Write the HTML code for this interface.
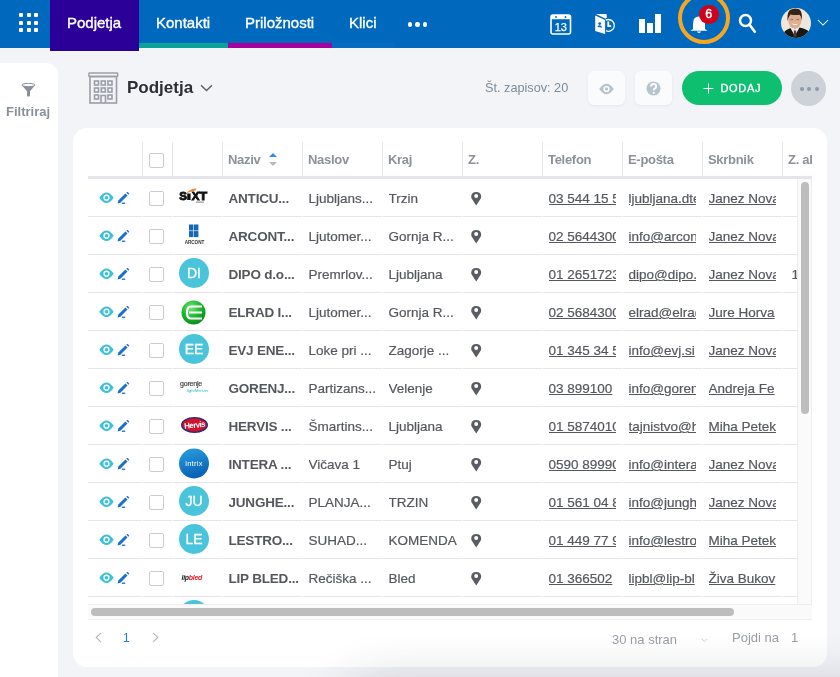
<!DOCTYPE html>
<html><head><meta charset="utf-8">
<style>
*{box-sizing:border-box;margin:0;padding:0}
html,body{width:840px;height:677px;overflow:hidden}
body{background:#F3F4F8;font-family:"Liberation Sans",sans-serif;position:relative;color:#55585E}
.abs{position:absolute}
#hdr{left:0;top:0;width:840px;height:48px;background:#0069BE}
.dot{position:absolute;width:4px;height:4px;background:#fff;border-radius:1px}
.tab{position:absolute;top:0;height:48px;color:#fff;font-size:15px;line-height:46px;white-space:nowrap;-webkit-text-stroke:0.35px #fff}
#t1{left:50px;width:89px;height:51px;background:#2A0098}
.ul{position:absolute;top:43px;height:5px}
#side{left:0;top:63px;width:58px;height:614px;background:#fff;border-top-right-radius:12px}
#card{left:73px;top:128px;width:754px;height:539px;background:#fff;border-radius:14px}
.hcell{position:absolute;top:142px;height:34px;border-left:1px solid #E6E7EB}
.htxt{position:absolute;top:152px;font-size:13px;font-weight:bold;color:#8C919A;white-space:nowrap;letter-spacing:-0.3px}
.row{position:absolute;left:88px;width:709px;height:38px}
.c{position:absolute;top:0;height:38px;overflow:hidden;white-space:nowrap;font-size:13.5px;line-height:38px;padding-left:6.5px;padding-right:6px;padding-top:1px;-webkit-text-stroke-width:0.2px}
.c::after{content:"";position:absolute;left:1px;right:0;bottom:0;height:1px;background:#E4E5EA}
.c0::after{left:0}
.nm{font-weight:bold;color:#54575D;letter-spacing:-0.2px;-webkit-text-stroke-width:0}
.lnk{text-decoration:underline;color:#55585E}
.in{width:67px;overflow:hidden;white-space:nowrap}
.av{position:absolute;left:7px;top:3px;width:30px;height:30px;border-radius:50%;background:#4AC4DA;color:#fff;font-size:14px;line-height:31px;text-align:center;-webkit-text-stroke:0.3px #fff}
.cb{position:absolute;left:7px;top:12px;width:15px;height:15px;border:1px solid #C9CCD1;border-radius:2px;background:#fff}
.hsep{position:absolute;top:142px;width:1px;height:34px;background:#E6E7EB}
.hline{position:absolute;left:88px;top:176px;width:724px;height:3px;background:#E3E5EA}
.hcb{position:absolute;left:149px;top:153px;width:15px;height:15px;border:1px solid #C9CCD1;border-radius:2px;background:#fff}
#body{position:absolute;left:88px;top:179px;width:709px;height:425px;overflow:hidden}
.row{position:absolute;left:0}
#vtrack{position:absolute;left:797px;top:179px;width:15px;height:425px;background:#FAFAFA;border-left:1px solid #EDEDED;border-right:1px solid #EDEDED}
#vthumb{position:absolute;left:3px;top:3px;width:8px;height:232px;border-radius:4px;background:#BDBDBD}
#htrack{position:absolute;left:88px;top:604px;width:724px;height:16px;background:#FAFAFA;border-top:1px solid #EDEDED;border-bottom:1px solid #EDEDED}
#hthumb{position:absolute;left:3px;top:3px;width:643px;height:8px;border-radius:4px;background:#BDBDBD}
</style></head>
<body style="will-change:transform">
<div id="hdr" class="abs">
  <div class="dot" style="left:19px;top:13px"></div><div class="dot" style="left:26.5px;top:13px"></div><div class="dot" style="left:34px;top:13px"></div>
  <div class="dot" style="left:19px;top:20.5px"></div><div class="dot" style="left:26.5px;top:20.5px"></div><div class="dot" style="left:34px;top:20.5px"></div>
  <div class="dot" style="left:19px;top:28px"></div><div class="dot" style="left:26.5px;top:28px"></div><div class="dot" style="left:34px;top:28px"></div>
  <div class="tab" id="t1"><span class="abs" style="left:17px">Podjetja</span></div>
  <div class="ul" style="left:139px;width:89px;background:#0AA39A"></div>
  <div class="ul" style="left:228px;width:104px;background:#A6009E"></div>
  <div class="ul" style="left:332px;width:63px;background:#066BC3"></div>
  <div class="tab" style="left:156px">Kontakti</div>
  <div class="tab" style="left:245px">Priložnosti</div>
  <div class="tab" style="left:349px">Klici</div>

  <div class="tab" style="left:407px;top:0;font-size:0">
    <span class="abs" style="left:0.5px;top:22px;width:4.6px;height:4.6px;border-radius:50%;background:#fff"></span>
    <span class="abs" style="left:8.2px;top:22px;width:4.6px;height:4.6px;border-radius:50%;background:#fff"></span>
    <span class="abs" style="left:15.9px;top:22px;width:4.6px;height:4.6px;border-radius:50%;background:#fff"></span>
  </div>
  <svg class="abs" style="left:550px;top:14px" width="22" height="21" viewBox="0 0 22 21">
    <rect x="1" y="1" width="19.5" height="19" rx="2" fill="none" stroke="#fff" stroke-width="1.6"/>
    <rect x="1" y="1" width="19.5" height="4.2" fill="#fff"/>
    <circle cx="6" cy="3" r="0.9" fill="#0069BE"/><circle cx="15.5" cy="3" r="0.9" fill="#0069BE"/>
    <text x="10.8" y="16.6" font-family="Liberation Sans" font-size="11" fill="#fff" stroke="#fff" stroke-width="0.25" text-anchor="middle">13</text>
  </svg>
  <svg class="abs" style="left:594px;top:13px" width="23" height="23" viewBox="0 0 23 23">
    <circle cx="14.4" cy="12.4" r="5.9" fill="none" stroke="#fff" stroke-width="1.3"/>
    <path d="M14.3 8.6 V13.1 H17.2" fill="none" stroke="#fff" stroke-width="1.9"/>
    <path d="M0.2 1.5 L12.1 6.9 L12.1 22 L0.2 19 Z" fill="#0069BE"/>
    <path d="M1.8 1.1 L11.7 1.1 Q12.75 1.1 12.75 2.2 L12.75 4.9 L11.2 5.5 Z" fill="#fff"/>
    <path d="M1.2 2.6 L11.1 7.1 L11.1 21 L1.2 18.1 Z" fill="#fff"/>
    <circle cx="5.7" cy="10.6" r="1.35" fill="#0069BE"/>
    <path d="M3.2 13.8 Q4.2 11.9 5.9 12.3 Q7.6 12.7 8.1 14.7 Z" fill="#0069BE"/>
  </svg>
  <div class="abs" style="left:639px;top:18.7px;width:5.5px;height:14.3px;background:#fff"></div>
  <div class="abs" style="left:647px;top:23px;width:5.5px;height:10px;background:#fff"></div>
  <div class="abs" style="left:655px;top:14.2px;width:5.5px;height:18.8px;background:#fff"></div>
  <div class="abs" style="left:678px;top:-8.5px;width:52px;height:52px;border-radius:50%;border:4.2px solid #F5A623"></div>
  <svg class="abs" style="left:689px;top:14px" width="20" height="20" viewBox="0 0 20 20">
    <path d="M4 15 L4 9.5 Q4 2.5 10 2.5 Q16 2.5 16 9.5 L16 15 L18.5 16.8 L1.5 16.8 Z" fill="#fff"/>
    <path d="M7.8 17.5 Q10 20.5 12.2 17.5 Z" fill="#fff"/>
  </svg>
  <div class="abs" style="left:699px;top:4.5px;width:19.5px;height:19px;border-radius:50%;background:#D0021B;color:#fff;font-size:12.5px;text-align:center;line-height:19px;-webkit-text-stroke:0.4px #fff">6</div>
  <svg class="abs" style="left:738px;top:13px" width="20" height="21" viewBox="0 0 20 21">
    <circle cx="7.5" cy="7.5" r="5.5" fill="none" stroke="#fff" stroke-width="2.5"/>
    <path d="M11.6 11.8 L16.8 18.8" stroke="#fff" stroke-width="2.6" stroke-linecap="round"/>
  </svg>
  <svg class="abs" style="left:781px;top:8px" width="30" height="30" viewBox="0 0 30 30">
    <defs><clipPath id="avc"><circle cx="15" cy="15" r="15"/></clipPath></defs>
    <g clip-path="url(#avc)">
      <rect width="30" height="30" fill="#EEE7DD"/>
      <path d="M13.6 17 L13.6 22 L15.5 22 L15.5 17 Z" fill="#C99478"/>
      <path d="M0 30 L2 25 Q5 21.5 9.5 20 L13.8 24 L18.5 19.5 Q25 20.5 28.5 24 L30 30 Z" fill="#1A1613"/>
      <path d="M9.5 20 L13.8 28 L18.5 19.5 L16 19 L13.8 21.5 L11.5 19 Z" fill="#E9E9EE"/>
      <path d="M13 22.5 L15 22.5 L15.6 28 L14 29.5 L12.6 28 Z" fill="#4E3844"/>
      <ellipse cx="13.8" cy="12.3" rx="6.6" ry="8.3" fill="#DDAE92"/>
      <path d="M6.6 13 Q5.8 4.5 9 2 Q13 -0.5 17.5 1 Q21.8 3 20.8 12.5 Q20.2 8.2 18.5 6.8 Q14 7.5 9.3 6.5 Q7.6 8.5 6.6 13 Z" fill="#3A2216"/>
      <path d="M10.4 15.6 Q13.9 18.6 17.3 15.4 Q13.9 16.5 10.4 15.6 Z" fill="#fff"/>
      <path d="M9.5 11.7 Q10.8 11 12 11.7 M15.5 11.7 Q16.8 11 18 11.7" stroke="#5A3A2A" stroke-width="0.6" fill="none"/>
    </g>
  </svg>
  <svg class="abs" style="left:817px;top:19px" width="12" height="8" viewBox="0 0 12 8">
    <path d="M0.9 1 L6 6 L11.1 1" fill="none" stroke="#fff" stroke-width="1.05"/>
  </svg>
</div>
<div id="side" class="abs">
  <svg class="abs" style="left:21px;top:20px" width="15" height="14" viewBox="0 0 15 14">
    <ellipse cx="7.5" cy="2" rx="6.6" ry="1.6" fill="none" stroke="#8A8F9B" stroke-width="1"/>
    <path d="M0.9 2.3 Q1.5 3.6 7.5 3.7 Q13.5 3.6 14.1 2.3 L9 8.2 L9 13 Q7.5 14 6 13 L6 8.2 Z" fill="#8A8F9B"/>
  </svg>
  <div class="abs" style="left:6px;top:41px;font-size:13px;font-weight:bold;color:#8A8F9B">Filtriraj</div>
</div>
<svg class="abs" style="left:88px;top:72px" width="31" height="32" viewBox="0 0 31 32">
  <g fill="none" stroke="#9A9EA6" stroke-width="1.6">
    <rect x="2" y="4.5" width="26.5" height="26.5"/>
    <rect x="0.8" y="1" width="28.9" height="3.5" rx="0.6" stroke-width="1.4"/>
    <rect x="6.5" y="9" width="4" height="4"/><rect x="13.3" y="9" width="4" height="4"/><rect x="20" y="9" width="4" height="4"/>
    <rect x="6.5" y="16" width="4" height="4"/><rect x="13.3" y="16" width="4" height="4"/><rect x="20" y="16" width="4" height="4"/>
    <rect x="6.5" y="23" width="4" height="4"/><rect x="20" y="23" width="4" height="4"/>
    <path d="M13 31 L13 23.5 L17.5 23.5 L17.5 31"/>
  </g>
</svg>
<div class="abs" style="left:127px;top:78px;font-size:17px;font-weight:bold;color:#2B2E35">Podjetja</div>
<svg class="abs" style="left:200px;top:84px" width="13" height="8" viewBox="0 0 13 8">
  <path d="M1 1.2 L6.5 6.5 L12 1.2" fill="none" stroke="#5A5E66" stroke-width="1.4"/>
</svg>
<div class="abs" style="left:485px;top:80.5px;font-size:12.7px;color:#7A8D9C">Št. zapisov: 20</div>
<div class="abs" style="left:588px;top:71px;width:37px;height:34px;border-radius:6px;background:#FAFBFC;box-shadow:0 1px 3px rgba(0,0,0,0.06)">
  <svg class="abs" style="left:11px;top:11.5px" width="15" height="12" viewBox="0 0 15 12">
    <path d="M0.2 6 Q7.5 -4.6 14.8 6 Q7.5 16.6 0.2 6 Z" fill="#B7C4CE"/>
    <circle cx="7.5" cy="6" r="3.1" fill="#fff"/><circle cx="7.5" cy="6" r="1.7" fill="#B7C4CE"/>
  </svg>
</div>
<div class="abs" style="left:635px;top:71px;width:37px;height:34px;border-radius:6px;background:#FAFBFC;box-shadow:0 1px 3px rgba(0,0,0,0.06)">
  <svg class="abs" style="left:10.5px;top:9.5px" width="15" height="15" viewBox="0 0 15 15">
    <circle cx="7.5" cy="7.5" r="7" fill="#B7C4CE"/>
    <path d="M5 5.6 Q5 3 7.6 3 Q10.2 3 10.2 5.4 Q10.2 6.8 8.6 7.6 Q7.7 8.1 7.7 9.3" fill="none" stroke="#fff" stroke-width="1.9"/>
    <circle cx="7.7" cy="11.8" r="1.1" fill="#fff"/>
  </svg>
</div>
<div class="abs" style="left:682px;top:71px;width:100px;height:34px;border-radius:17px;background:#0DBF6F;color:#fff;font-size:11px;letter-spacing:0.65px;line-height:34px;-webkit-text-stroke:0.3px #fff">
  <svg class="abs" style="left:21px;top:12px" width="11" height="11" viewBox="0 0 11 11"><path d="M5.5 0.5 L5.5 10.5 M0.5 5.5 L10.5 5.5" stroke="#fff" stroke-width="1"/></svg>
  <span class="abs" style="left:38.5px;top:-0.5px">DODAJ</span>
</div>
<div class="abs" style="left:791px;top:71px;width:35px;height:35px;border-radius:50%;background:#CDD1D8">
  <span class="abs" style="left:8.5px;top:15.5px;width:4px;height:4px;border-radius:50%;background:#8C9BA8"></span>
  <span class="abs" style="left:16px;top:15.5px;width:4px;height:4px;border-radius:50%;background:#8C9BA8"></span>
  <span class="abs" style="left:23.5px;top:15.5px;width:4px;height:4px;border-radius:50%;background:#8C9BA8"></span>
</div>
<div id="card" class="abs"></div>
<!--TABLE-->
<div class="hsep" style="left:142px"></div>
<div class="hsep" style="left:172px"></div>
<div class="hsep" style="left:222px"></div>
<div class="hsep" style="left:302px"></div>
<div class="hsep" style="left:382px"></div>
<div class="hsep" style="left:462px"></div>
<div class="hsep" style="left:542px"></div>
<div class="hsep" style="left:622px"></div>
<div class="hsep" style="left:702px"></div>
<div class="hsep" style="left:782px"></div>
<div class="htxt" style="left:228px;">Naziv</div>
<div class="htxt" style="left:308px;">Naslov</div>
<div class="htxt" style="left:388px;">Kraj</div>
<div class="htxt" style="left:468px;">Z.</div>
<div class="htxt" style="left:548px;">Telefon</div>
<div class="htxt" style="left:628px;">E-pošta</div>
<div class="htxt" style="left:708px;">Skrbnik</div>
<div class="htxt" style="left:788px;width:24px;overflow:hidden">Z. al</div>
<div class="hcb"></div>
<svg class="abs" style="left:268px;top:152px" width="10" height="15" viewBox="0 0 10 15"><path d="M1 4.9 L5 0.9 L9 4.9 Z" fill="#2F8CF0"/><path d="M1 10 L9 10 L5 13.9 Z" fill="#B6BAC2"/></svg>
<div class="hline"></div>
<div id="body">
<div class="row" style="top:0px"><div class="c c0" style="left:0;width:54px"><svg class="abs" style="left:10.5px;top:12.7px" width="16" height="12" viewBox="0 0 16 12"><path d="M0.3 5.7 Q7.5 -4.9 14.7 5.7 Q7.5 16.3 0.3 5.7 Z" fill="#3DC0D8"/><circle cx="7.5" cy="5.7" r="3.1" fill="#fff"/><circle cx="7.5" cy="5.7" r="1.8" fill="#3DC0D8"/></svg><svg class="abs" style="left:29px;top:12.8px" width="13" height="13" viewBox="0 0 13 13"><path d="M0.6 11.4 L1.3 8.6 L8.4 1.5 L10.5 3.6 L3.4 10.7 Z" fill="#1D6FCE"/><path d="M9.3 0.6 L10.3 -0.4 L12.4 1.7 L11.4 2.7 Z" fill="#1D6FCE"/><rect x="4.8" y="10.6" width="3.4" height="1.3" fill="#1D6FCE"/></svg></div><div class="c" style="left:54px;width:30px"><div class="cb"></div></div><div class="c" style="left:84px;width:50px"><svg class="abs" style="left:6px;top:9px" width="31" height="16" viewBox="0 0 31 16"><g font-family="Liberation Sans" font-weight="bold" font-size="11.5" fill="#111" stroke="#111" stroke-width="0.9"><text x="1.3" y="12">S</text><text x="13.8" y="12">X</text><text x="21.3" y="12" transform="translate(21.3 12) scale(1.12 1) translate(-21.3 -12)">T</text></g><path d="M9.2 12 L9.2 5.5 L12.6 5.5 L12.6 12 Z" fill="#111"/><path d="M9 4.3 Q13 0.8 18.5 0.6 L17.2 2.4 Q13.5 2.8 9.5 5 Z" fill="#F47B20"/><rect x="18" y="13.6" width="8" height="0.9" fill="#777"/></svg></div><div class="c" style="left:134px;width:80px"><div class="in" style="width:73px"><span class="nm">ANTICU...</span></div></div><div class="c" style="left:214px;width:80px"><div class="in" style="width:73px">Ljubljans...</div></div><div class="c" style="left:294px;width:80px"><div class="in" style="width:73px">Trzin</div></div><div class="c" style="left:374px;width:80px"><svg class="abs" style="left:9px;top:12.7px" width="11" height="14" viewBox="0 0 11 14"><path d="M5.2 13.6 L1.3 7.6 Q0.2 6 0.2 4.7 Q0.2 0 5.2 0 Q10.2 0 10.2 4.7 Q10.2 6 9.1 7.6 Z" fill="#5A5D63"/><circle cx="5.2" cy="3.9" r="2" fill="#fff"/></svg></div><div class="c" style="left:454px;width:80px"><div class="in"><span class="lnk">03 544 15 5</span></div></div><div class="c" style="left:534px;width:80px"><div class="in"><span class="lnk">ljubljana.dte</span></div></div><div class="c" style="left:614px;width:80px"><div class="in"><span class="lnk">Janez Nova</span></div></div><div class="c" style="left:694px;width:80px"><div class="in" style="padding-left:8.5px">2</div></div></div>
<div class="row" style="top:38px"><div class="c c0" style="left:0;width:54px"><svg class="abs" style="left:10.5px;top:12.7px" width="16" height="12" viewBox="0 0 16 12"><path d="M0.3 5.7 Q7.5 -4.9 14.7 5.7 Q7.5 16.3 0.3 5.7 Z" fill="#3DC0D8"/><circle cx="7.5" cy="5.7" r="3.1" fill="#fff"/><circle cx="7.5" cy="5.7" r="1.8" fill="#3DC0D8"/></svg><svg class="abs" style="left:29px;top:12.8px" width="13" height="13" viewBox="0 0 13 13"><path d="M0.6 11.4 L1.3 8.6 L8.4 1.5 L10.5 3.6 L3.4 10.7 Z" fill="#1D6FCE"/><path d="M9.3 0.6 L10.3 -0.4 L12.4 1.7 L11.4 2.7 Z" fill="#1D6FCE"/><rect x="4.8" y="10.6" width="3.4" height="1.3" fill="#1D6FCE"/></svg></div><div class="c" style="left:54px;width:30px"><div class="cb"></div></div><div class="c" style="left:84px;width:50px"><svg class="abs" style="left:11px;top:6px" width="24" height="22" viewBox="0 0 24 22"><rect x="6" y="1.5" width="4.4" height="6" fill="#1565B8"/><rect x="11" y="1.5" width="4.4" height="6" fill="#1565B8"/><rect x="6" y="8.1" width="4.4" height="6" fill="#1565B8"/><rect x="11" y="8.1" width="4.4" height="6" fill="#1565B8"/><text x="11.5" y="20.5" font-family="Liberation Sans" font-weight="bold" font-size="4.6" fill="#333" text-anchor="middle">ARCONT</text></svg></div><div class="c" style="left:134px;width:80px"><div class="in" style="width:73px"><span class="nm">ARCONT...</span></div></div><div class="c" style="left:214px;width:80px"><div class="in" style="width:73px">Ljutomer...</div></div><div class="c" style="left:294px;width:80px"><div class="in" style="width:73px">Gornja R...</div></div><div class="c" style="left:374px;width:80px"><svg class="abs" style="left:9px;top:12.7px" width="11" height="14" viewBox="0 0 11 14"><path d="M5.2 13.6 L1.3 7.6 Q0.2 6 0.2 4.7 Q0.2 0 5.2 0 Q10.2 0 10.2 4.7 Q10.2 6 9.1 7.6 Z" fill="#5A5D63"/><circle cx="5.2" cy="3.9" r="2" fill="#fff"/></svg></div><div class="c" style="left:454px;width:80px"><div class="in"><span class="lnk">02 5644300</span></div></div><div class="c" style="left:534px;width:80px"><div class="in"><span class="lnk">info@arcon</span></div></div><div class="c" style="left:614px;width:80px"><div class="in"><span class="lnk">Janez Nova</span></div></div><div class="c" style="left:694px;width:80px"><div class="in" style="padding-left:0"></div></div></div>
<div class="row" style="top:76px"><div class="c c0" style="left:0;width:54px"><svg class="abs" style="left:10.5px;top:12.7px" width="16" height="12" viewBox="0 0 16 12"><path d="M0.3 5.7 Q7.5 -4.9 14.7 5.7 Q7.5 16.3 0.3 5.7 Z" fill="#3DC0D8"/><circle cx="7.5" cy="5.7" r="3.1" fill="#fff"/><circle cx="7.5" cy="5.7" r="1.8" fill="#3DC0D8"/></svg><svg class="abs" style="left:29px;top:12.8px" width="13" height="13" viewBox="0 0 13 13"><path d="M0.6 11.4 L1.3 8.6 L8.4 1.5 L10.5 3.6 L3.4 10.7 Z" fill="#1D6FCE"/><path d="M9.3 0.6 L10.3 -0.4 L12.4 1.7 L11.4 2.7 Z" fill="#1D6FCE"/><rect x="4.8" y="10.6" width="3.4" height="1.3" fill="#1D6FCE"/></svg></div><div class="c" style="left:54px;width:30px"><div class="cb"></div></div><div class="c" style="left:84px;width:50px"><div class="av">DI</div></div><div class="c" style="left:134px;width:80px"><div class="in" style="width:73px"><span class="nm">DIPO d.o...</span></div></div><div class="c" style="left:214px;width:80px"><div class="in" style="width:73px">Premrlov...</div></div><div class="c" style="left:294px;width:80px"><div class="in" style="width:73px">Ljubljana</div></div><div class="c" style="left:374px;width:80px"><svg class="abs" style="left:9px;top:12.7px" width="11" height="14" viewBox="0 0 11 14"><path d="M5.2 13.6 L1.3 7.6 Q0.2 6 0.2 4.7 Q0.2 0 5.2 0 Q10.2 0 10.2 4.7 Q10.2 6 9.1 7.6 Z" fill="#5A5D63"/><circle cx="5.2" cy="3.9" r="2" fill="#fff"/></svg></div><div class="c" style="left:454px;width:80px"><div class="in"><span class="lnk">01 2651723</span></div></div><div class="c" style="left:534px;width:80px"><div class="in"><span class="lnk">dipo@dipo.</span></div></div><div class="c" style="left:614px;width:80px"><div class="in"><span class="lnk">Janez Nova</span></div></div><div class="c" style="left:694px;width:80px"><div class="in" style="padding-left:3px">1</div></div></div>
<div class="row" style="top:114px"><div class="c c0" style="left:0;width:54px"><svg class="abs" style="left:10.5px;top:12.7px" width="16" height="12" viewBox="0 0 16 12"><path d="M0.3 5.7 Q7.5 -4.9 14.7 5.7 Q7.5 16.3 0.3 5.7 Z" fill="#3DC0D8"/><circle cx="7.5" cy="5.7" r="3.1" fill="#fff"/><circle cx="7.5" cy="5.7" r="1.8" fill="#3DC0D8"/></svg><svg class="abs" style="left:29px;top:12.8px" width="13" height="13" viewBox="0 0 13 13"><path d="M0.6 11.4 L1.3 8.6 L8.4 1.5 L10.5 3.6 L3.4 10.7 Z" fill="#1D6FCE"/><path d="M9.3 0.6 L10.3 -0.4 L12.4 1.7 L11.4 2.7 Z" fill="#1D6FCE"/><rect x="4.8" y="10.6" width="3.4" height="1.3" fill="#1D6FCE"/></svg></div><div class="c" style="left:54px;width:30px"><div class="cb"></div></div><div class="c" style="left:84px;width:50px"><svg class="abs" style="left:9px;top:7px" width="26" height="26" viewBox="0 0 26 26"><defs><radialGradient id="eg" cx="0.4" cy="0.3" r="0.8"><stop offset="0" stop-color="#7BE07B"/><stop offset="0.5" stop-color="#18B82A"/><stop offset="1" stop-color="#0B7F1A"/></radialGradient></defs><circle cx="12.5" cy="12.5" r="12" fill="url(#eg)"/><path d="M21 6.5 L10 6.5 Q6 6.5 6 12.5 Q6 18.5 10 18.5 L21 18.5 M8 12.5 L21 12.5" fill="none" stroke="#fff" stroke-width="2.2"/></svg></div><div class="c" style="left:134px;width:80px"><div class="in" style="width:73px"><span class="nm">ELRAD I...</span></div></div><div class="c" style="left:214px;width:80px"><div class="in" style="width:73px">Ljutomer...</div></div><div class="c" style="left:294px;width:80px"><div class="in" style="width:73px">Gornja R...</div></div><div class="c" style="left:374px;width:80px"><svg class="abs" style="left:9px;top:12.7px" width="11" height="14" viewBox="0 0 11 14"><path d="M5.2 13.6 L1.3 7.6 Q0.2 6 0.2 4.7 Q0.2 0 5.2 0 Q10.2 0 10.2 4.7 Q10.2 6 9.1 7.6 Z" fill="#5A5D63"/><circle cx="5.2" cy="3.9" r="2" fill="#fff"/></svg></div><div class="c" style="left:454px;width:80px"><div class="in"><span class="lnk">02 5684300</span></div></div><div class="c" style="left:534px;width:80px"><div class="in"><span class="lnk">elrad@elrad</span></div></div><div class="c" style="left:614px;width:80px"><div class="in"><span class="lnk">Jure Horva</span></div></div><div class="c" style="left:694px;width:80px"><div class="in" style="padding-left:0"></div></div></div>
<div class="row" style="top:152px"><div class="c c0" style="left:0;width:54px"><svg class="abs" style="left:10.5px;top:12.7px" width="16" height="12" viewBox="0 0 16 12"><path d="M0.3 5.7 Q7.5 -4.9 14.7 5.7 Q7.5 16.3 0.3 5.7 Z" fill="#3DC0D8"/><circle cx="7.5" cy="5.7" r="3.1" fill="#fff"/><circle cx="7.5" cy="5.7" r="1.8" fill="#3DC0D8"/></svg><svg class="abs" style="left:29px;top:12.8px" width="13" height="13" viewBox="0 0 13 13"><path d="M0.6 11.4 L1.3 8.6 L8.4 1.5 L10.5 3.6 L3.4 10.7 Z" fill="#1D6FCE"/><path d="M9.3 0.6 L10.3 -0.4 L12.4 1.7 L11.4 2.7 Z" fill="#1D6FCE"/><rect x="4.8" y="10.6" width="3.4" height="1.3" fill="#1D6FCE"/></svg></div><div class="c" style="left:54px;width:30px"><div class="cb"></div></div><div class="c" style="left:84px;width:50px"><div class="av">EE</div></div><div class="c" style="left:134px;width:80px"><div class="in" style="width:73px"><span class="nm">EVJ ENE...</span></div></div><div class="c" style="left:214px;width:80px"><div class="in" style="width:73px">Loke pri ...</div></div><div class="c" style="left:294px;width:80px"><div class="in" style="width:73px">Zagorje ...</div></div><div class="c" style="left:374px;width:80px"><svg class="abs" style="left:9px;top:12.7px" width="11" height="14" viewBox="0 0 11 14"><path d="M5.2 13.6 L1.3 7.6 Q0.2 6 0.2 4.7 Q0.2 0 5.2 0 Q10.2 0 10.2 4.7 Q10.2 6 9.1 7.6 Z" fill="#5A5D63"/><circle cx="5.2" cy="3.9" r="2" fill="#fff"/></svg></div><div class="c" style="left:454px;width:80px"><div class="in"><span class="lnk">01 345 34 5</span></div></div><div class="c" style="left:534px;width:80px"><div class="in"><span class="lnk">info@evj.si</span></div></div><div class="c" style="left:614px;width:80px"><div class="in"><span class="lnk">Janez Nova</span></div></div><div class="c" style="left:694px;width:80px"><div class="in" style="padding-left:0"></div></div></div>
<div class="row" style="top:190px"><div class="c c0" style="left:0;width:54px"><svg class="abs" style="left:10.5px;top:12.7px" width="16" height="12" viewBox="0 0 16 12"><path d="M0.3 5.7 Q7.5 -4.9 14.7 5.7 Q7.5 16.3 0.3 5.7 Z" fill="#3DC0D8"/><circle cx="7.5" cy="5.7" r="3.1" fill="#fff"/><circle cx="7.5" cy="5.7" r="1.8" fill="#3DC0D8"/></svg><svg class="abs" style="left:29px;top:12.8px" width="13" height="13" viewBox="0 0 13 13"><path d="M0.6 11.4 L1.3 8.6 L8.4 1.5 L10.5 3.6 L3.4 10.7 Z" fill="#1D6FCE"/><path d="M9.3 0.6 L10.3 -0.4 L12.4 1.7 L11.4 2.7 Z" fill="#1D6FCE"/><rect x="4.8" y="10.6" width="3.4" height="1.3" fill="#1D6FCE"/></svg></div><div class="c" style="left:54px;width:30px"><div class="cb"></div></div><div class="c" style="left:84px;width:50px"><svg class="abs" style="left:7px;top:10px" width="30" height="16" viewBox="0 0 30 16"><text x="1" y="7" font-family="Liberation Sans" font-size="7" fill="#444" stroke="#444" stroke-width="0.2" letter-spacing="-0.2">gorenje</text><text x="8" y="12.5" font-family="Liberation Sans" font-style="italic" font-size="4.2" fill="#2FB8C8">lightMeister</text></svg></div><div class="c" style="left:134px;width:80px"><div class="in" style="width:73px"><span class="nm">GORENJ...</span></div></div><div class="c" style="left:214px;width:80px"><div class="in" style="width:73px">Partizans...</div></div><div class="c" style="left:294px;width:80px"><div class="in" style="width:73px">Velenje</div></div><div class="c" style="left:374px;width:80px"><svg class="abs" style="left:9px;top:12.7px" width="11" height="14" viewBox="0 0 11 14"><path d="M5.2 13.6 L1.3 7.6 Q0.2 6 0.2 4.7 Q0.2 0 5.2 0 Q10.2 0 10.2 4.7 Q10.2 6 9.1 7.6 Z" fill="#5A5D63"/><circle cx="5.2" cy="3.9" r="2" fill="#fff"/></svg></div><div class="c" style="left:454px;width:80px"><div class="in"><span class="lnk">03 899100</span></div></div><div class="c" style="left:534px;width:80px"><div class="in"><span class="lnk">info@goren</span></div></div><div class="c" style="left:614px;width:80px"><div class="in"><span class="lnk">Andreja Fe</span></div></div><div class="c" style="left:694px;width:80px"><div class="in" style="padding-left:0"></div></div></div>
<div class="row" style="top:228px"><div class="c c0" style="left:0;width:54px"><svg class="abs" style="left:10.5px;top:12.7px" width="16" height="12" viewBox="0 0 16 12"><path d="M0.3 5.7 Q7.5 -4.9 14.7 5.7 Q7.5 16.3 0.3 5.7 Z" fill="#3DC0D8"/><circle cx="7.5" cy="5.7" r="3.1" fill="#fff"/><circle cx="7.5" cy="5.7" r="1.8" fill="#3DC0D8"/></svg><svg class="abs" style="left:29px;top:12.8px" width="13" height="13" viewBox="0 0 13 13"><path d="M0.6 11.4 L1.3 8.6 L8.4 1.5 L10.5 3.6 L3.4 10.7 Z" fill="#1D6FCE"/><path d="M9.3 0.6 L10.3 -0.4 L12.4 1.7 L11.4 2.7 Z" fill="#1D6FCE"/><rect x="4.8" y="10.6" width="3.4" height="1.3" fill="#1D6FCE"/></svg></div><div class="c" style="left:54px;width:30px"><div class="cb"></div></div><div class="c" style="left:84px;width:50px"><svg class="abs" style="left:9px;top:9.5px" width="28" height="17" viewBox="0 0 28 17"><ellipse cx="13.5" cy="8" rx="12.8" ry="7.3" fill="#D0122F" stroke="#1E2A78" stroke-width="1.3"/><text x="13.5" y="10.8" font-family="Liberation Sans" font-weight="bold" font-size="8" fill="#fff" text-anchor="middle" letter-spacing="-0.6" transform="rotate(-6 13.5 8)">Hervis</text></svg></div><div class="c" style="left:134px;width:80px"><div class="in" style="width:73px"><span class="nm">HERVIS ...</span></div></div><div class="c" style="left:214px;width:80px"><div class="in" style="width:73px">Šmartins...</div></div><div class="c" style="left:294px;width:80px"><div class="in" style="width:73px">Ljubljana</div></div><div class="c" style="left:374px;width:80px"><svg class="abs" style="left:9px;top:12.7px" width="11" height="14" viewBox="0 0 11 14"><path d="M5.2 13.6 L1.3 7.6 Q0.2 6 0.2 4.7 Q0.2 0 5.2 0 Q10.2 0 10.2 4.7 Q10.2 6 9.1 7.6 Z" fill="#5A5D63"/><circle cx="5.2" cy="3.9" r="2" fill="#fff"/></svg></div><div class="c" style="left:454px;width:80px"><div class="in"><span class="lnk">01 5874010</span></div></div><div class="c" style="left:534px;width:80px"><div class="in"><span class="lnk">tajnistvo@h</span></div></div><div class="c" style="left:614px;width:80px"><div class="in"><span class="lnk">Miha Petek</span></div></div><div class="c" style="left:694px;width:80px"><div class="in" style="padding-left:0"></div></div></div>
<div class="row" style="top:266px"><div class="c c0" style="left:0;width:54px"><svg class="abs" style="left:10.5px;top:12.7px" width="16" height="12" viewBox="0 0 16 12"><path d="M0.3 5.7 Q7.5 -4.9 14.7 5.7 Q7.5 16.3 0.3 5.7 Z" fill="#3DC0D8"/><circle cx="7.5" cy="5.7" r="3.1" fill="#fff"/><circle cx="7.5" cy="5.7" r="1.8" fill="#3DC0D8"/></svg><svg class="abs" style="left:29px;top:12.8px" width="13" height="13" viewBox="0 0 13 13"><path d="M0.6 11.4 L1.3 8.6 L8.4 1.5 L10.5 3.6 L3.4 10.7 Z" fill="#1D6FCE"/><path d="M9.3 0.6 L10.3 -0.4 L12.4 1.7 L11.4 2.7 Z" fill="#1D6FCE"/><rect x="4.8" y="10.6" width="3.4" height="1.3" fill="#1D6FCE"/></svg></div><div class="c" style="left:54px;width:30px"><div class="cb"></div></div><div class="c" style="left:84px;width:50px"><svg class="abs" style="left:7px;top:3px" width="31" height="31" viewBox="0 0 31 31"><defs><linearGradient id="ig" x1="0" y1="0" x2="0.3" y2="1"><stop offset="0" stop-color="#2AA0E2"/><stop offset="1" stop-color="#0A62B4"/></linearGradient></defs><circle cx="15" cy="15.5" r="15" fill="url(#ig)"/><text x="15" y="18" font-family="Liberation Sans" font-size="7.5" fill="#fff" text-anchor="middle" letter-spacing="0.3">intrix</text></svg></div><div class="c" style="left:134px;width:80px"><div class="in" style="width:73px"><span class="nm">INTERA ...</span></div></div><div class="c" style="left:214px;width:80px"><div class="in" style="width:73px">Vičava 1</div></div><div class="c" style="left:294px;width:80px"><div class="in" style="width:73px">Ptuj</div></div><div class="c" style="left:374px;width:80px"><svg class="abs" style="left:9px;top:12.7px" width="11" height="14" viewBox="0 0 11 14"><path d="M5.2 13.6 L1.3 7.6 Q0.2 6 0.2 4.7 Q0.2 0 5.2 0 Q10.2 0 10.2 4.7 Q10.2 6 9.1 7.6 Z" fill="#5A5D63"/><circle cx="5.2" cy="3.9" r="2" fill="#fff"/></svg></div><div class="c" style="left:454px;width:80px"><div class="in"><span class="lnk">0590 89990</span></div></div><div class="c" style="left:534px;width:80px"><div class="in"><span class="lnk">info@intera</span></div></div><div class="c" style="left:614px;width:80px"><div class="in"><span class="lnk">Janez Nova</span></div></div><div class="c" style="left:694px;width:80px"><div class="in" style="padding-left:0"></div></div></div>
<div class="row" style="top:304px"><div class="c c0" style="left:0;width:54px"><svg class="abs" style="left:10.5px;top:12.7px" width="16" height="12" viewBox="0 0 16 12"><path d="M0.3 5.7 Q7.5 -4.9 14.7 5.7 Q7.5 16.3 0.3 5.7 Z" fill="#3DC0D8"/><circle cx="7.5" cy="5.7" r="3.1" fill="#fff"/><circle cx="7.5" cy="5.7" r="1.8" fill="#3DC0D8"/></svg><svg class="abs" style="left:29px;top:12.8px" width="13" height="13" viewBox="0 0 13 13"><path d="M0.6 11.4 L1.3 8.6 L8.4 1.5 L10.5 3.6 L3.4 10.7 Z" fill="#1D6FCE"/><path d="M9.3 0.6 L10.3 -0.4 L12.4 1.7 L11.4 2.7 Z" fill="#1D6FCE"/><rect x="4.8" y="10.6" width="3.4" height="1.3" fill="#1D6FCE"/></svg></div><div class="c" style="left:54px;width:30px"><div class="cb"></div></div><div class="c" style="left:84px;width:50px"><div class="av">JU</div></div><div class="c" style="left:134px;width:80px"><div class="in" style="width:73px"><span class="nm">JUNGHE...</span></div></div><div class="c" style="left:214px;width:80px"><div class="in" style="width:73px">PLANJA...</div></div><div class="c" style="left:294px;width:80px"><div class="in" style="width:73px">TRZIN</div></div><div class="c" style="left:374px;width:80px"><svg class="abs" style="left:9px;top:12.7px" width="11" height="14" viewBox="0 0 11 14"><path d="M5.2 13.6 L1.3 7.6 Q0.2 6 0.2 4.7 Q0.2 0 5.2 0 Q10.2 0 10.2 4.7 Q10.2 6 9.1 7.6 Z" fill="#5A5D63"/><circle cx="5.2" cy="3.9" r="2" fill="#fff"/></svg></div><div class="c" style="left:454px;width:80px"><div class="in"><span class="lnk">01 561 04 8</span></div></div><div class="c" style="left:534px;width:80px"><div class="in"><span class="lnk">info@jungh</span></div></div><div class="c" style="left:614px;width:80px"><div class="in"><span class="lnk">Janez Nova</span></div></div><div class="c" style="left:694px;width:80px"><div class="in" style="padding-left:0"></div></div></div>
<div class="row" style="top:342px"><div class="c c0" style="left:0;width:54px"><svg class="abs" style="left:10.5px;top:12.7px" width="16" height="12" viewBox="0 0 16 12"><path d="M0.3 5.7 Q7.5 -4.9 14.7 5.7 Q7.5 16.3 0.3 5.7 Z" fill="#3DC0D8"/><circle cx="7.5" cy="5.7" r="3.1" fill="#fff"/><circle cx="7.5" cy="5.7" r="1.8" fill="#3DC0D8"/></svg><svg class="abs" style="left:29px;top:12.8px" width="13" height="13" viewBox="0 0 13 13"><path d="M0.6 11.4 L1.3 8.6 L8.4 1.5 L10.5 3.6 L3.4 10.7 Z" fill="#1D6FCE"/><path d="M9.3 0.6 L10.3 -0.4 L12.4 1.7 L11.4 2.7 Z" fill="#1D6FCE"/><rect x="4.8" y="10.6" width="3.4" height="1.3" fill="#1D6FCE"/></svg></div><div class="c" style="left:54px;width:30px"><div class="cb"></div></div><div class="c" style="left:84px;width:50px"><div class="av">LE</div></div><div class="c" style="left:134px;width:80px"><div class="in" style="width:73px"><span class="nm">LESTRO...</span></div></div><div class="c" style="left:214px;width:80px"><div class="in" style="width:73px">SUHAD...</div></div><div class="c" style="left:294px;width:80px"><div class="in" style="width:73px">KOMENDA</div></div><div class="c" style="left:374px;width:80px"><svg class="abs" style="left:9px;top:12.7px" width="11" height="14" viewBox="0 0 11 14"><path d="M5.2 13.6 L1.3 7.6 Q0.2 6 0.2 4.7 Q0.2 0 5.2 0 Q10.2 0 10.2 4.7 Q10.2 6 9.1 7.6 Z" fill="#5A5D63"/><circle cx="5.2" cy="3.9" r="2" fill="#fff"/></svg></div><div class="c" style="left:454px;width:80px"><div class="in"><span class="lnk">01 449 77 9</span></div></div><div class="c" style="left:534px;width:80px"><div class="in"><span class="lnk">info@lestro</span></div></div><div class="c" style="left:614px;width:80px"><div class="in"><span class="lnk">Miha Petek</span></div></div><div class="c" style="left:694px;width:80px"><div class="in" style="padding-left:0"></div></div></div>
<div class="row" style="top:380px"><div class="c c0" style="left:0;width:54px"><svg class="abs" style="left:10.5px;top:12.7px" width="16" height="12" viewBox="0 0 16 12"><path d="M0.3 5.7 Q7.5 -4.9 14.7 5.7 Q7.5 16.3 0.3 5.7 Z" fill="#3DC0D8"/><circle cx="7.5" cy="5.7" r="3.1" fill="#fff"/><circle cx="7.5" cy="5.7" r="1.8" fill="#3DC0D8"/></svg><svg class="abs" style="left:29px;top:12.8px" width="13" height="13" viewBox="0 0 13 13"><path d="M0.6 11.4 L1.3 8.6 L8.4 1.5 L10.5 3.6 L3.4 10.7 Z" fill="#1D6FCE"/><path d="M9.3 0.6 L10.3 -0.4 L12.4 1.7 L11.4 2.7 Z" fill="#1D6FCE"/><rect x="4.8" y="10.6" width="3.4" height="1.3" fill="#1D6FCE"/></svg></div><div class="c" style="left:54px;width:30px"><div class="cb"></div></div><div class="c" style="left:84px;width:50px"><svg class="abs" style="left:8px;top:14px" width="28" height="9" viewBox="0 0 28 9"><text x="1.5" y="7" font-family="Liberation Sans" font-weight="bold" font-style="italic" font-size="7" fill="#222" letter-spacing="-0.3">lip<tspan fill="#D81E2A">bled</tspan></text></svg></div><div class="c" style="left:134px;width:80px"><div class="in" style="width:73px"><span class="nm">LIP BLED...</span></div></div><div class="c" style="left:214px;width:80px"><div class="in" style="width:73px">Rečiška ...</div></div><div class="c" style="left:294px;width:80px"><div class="in" style="width:73px">Bled</div></div><div class="c" style="left:374px;width:80px"><svg class="abs" style="left:9px;top:12.7px" width="11" height="14" viewBox="0 0 11 14"><path d="M5.2 13.6 L1.3 7.6 Q0.2 6 0.2 4.7 Q0.2 0 5.2 0 Q10.2 0 10.2 4.7 Q10.2 6 9.1 7.6 Z" fill="#5A5D63"/><circle cx="5.2" cy="3.9" r="2" fill="#fff"/></svg></div><div class="c" style="left:454px;width:80px"><div class="in"><span class="lnk">01 366502</span></div></div><div class="c" style="left:534px;width:80px"><div class="in"><span class="lnk">lipbl@lip-bl</span></div></div><div class="c" style="left:614px;width:80px"><div class="in"><span class="lnk">Živa Bukov</span></div></div><div class="c" style="left:694px;width:80px"><div class="in" style="padding-left:0"></div></div></div>
<div class="row" style="top:418px"><div class="c c0" style="left:0;width:54px"><svg class="abs" style="left:10.5px;top:12.7px" width="16" height="12" viewBox="0 0 16 12"><path d="M0.3 5.7 Q7.5 -4.9 14.7 5.7 Q7.5 16.3 0.3 5.7 Z" fill="#3DC0D8"/><circle cx="7.5" cy="5.7" r="3.1" fill="#fff"/><circle cx="7.5" cy="5.7" r="1.8" fill="#3DC0D8"/></svg><svg class="abs" style="left:29px;top:12.8px" width="13" height="13" viewBox="0 0 13 13"><path d="M0.6 11.4 L1.3 8.6 L8.4 1.5 L10.5 3.6 L3.4 10.7 Z" fill="#1D6FCE"/><path d="M9.3 0.6 L10.3 -0.4 L12.4 1.7 L11.4 2.7 Z" fill="#1D6FCE"/><rect x="4.8" y="10.6" width="3.4" height="1.3" fill="#1D6FCE"/></svg></div><div class="c" style="left:54px;width:30px"><div class="cb"></div></div><div class="c" style="left:84px;width:50px"><div class="av">XX</div></div><div class="c" style="left:134px;width:80px"><div class="in" style="width:73px"><span class="nm"></span></div></div><div class="c" style="left:214px;width:80px"><div class="in" style="width:73px"></div></div><div class="c" style="left:294px;width:80px"><div class="in" style="width:73px"></div></div><div class="c" style="left:374px;width:80px"><svg class="abs" style="left:9px;top:12.7px" width="11" height="14" viewBox="0 0 11 14"><path d="M5.2 13.6 L1.3 7.6 Q0.2 6 0.2 4.7 Q0.2 0 5.2 0 Q10.2 0 10.2 4.7 Q10.2 6 9.1 7.6 Z" fill="#5A5D63"/><circle cx="5.2" cy="3.9" r="2" fill="#fff"/></svg></div><div class="c" style="left:454px;width:80px"><div class="in"></div></div><div class="c" style="left:534px;width:80px"><div class="in"></div></div><div class="c" style="left:614px;width:80px"><div class="in"></div></div><div class="c" style="left:694px;width:80px"><div class="in" style="padding-left:0"></div></div></div>
</div>
<div id="vtrack"><div id="vthumb"></div></div>
<div id="htrack"><div id="hthumb"></div></div>
<svg class="abs" style="left:95px;top:632px" width="7" height="11" viewBox="0 0 7 11"><path d="M6 0.8 L1.2 5.5 L6 10.2" fill="none" stroke="#B3B7BE" stroke-width="1.1"/></svg>
<div class="abs" style="left:123px;top:631px;font-size:12px;color:#1A7FE0">1</div>
<svg class="abs" style="left:152px;top:632px" width="7" height="11" viewBox="0 0 7 11"><path d="M1 0.8 L5.8 5.5 L1 10.2" fill="none" stroke="#B3B7BE" stroke-width="1.1"/></svg>
<div class="abs" style="left:612px;top:632px;font-size:13px;color:#9A9EA6">30 na stran</div>
<svg class="abs" style="left:701px;top:638px" width="7" height="5" viewBox="0 0 7 5"><path d="M0.8 0.8 L3.5 3.6 L6.2 0.8" fill="none" stroke="#C8CBD0" stroke-width="0.9"/></svg>
<div class="abs" style="left:732px;top:630px;font-size:13px;color:#9A9EA6">Pojdi na</div>
<div class="abs" style="left:791px;top:630px;font-size:13px;color:#9A9EA6">1</div>
<!--/TABLE-->
<div class="abs" style="left:345px;top:693px;width:700px;height:120px;border-radius:40px;box-shadow:0 0 50px 12px rgba(40,45,60,0.2)"></div>
</body></html>
